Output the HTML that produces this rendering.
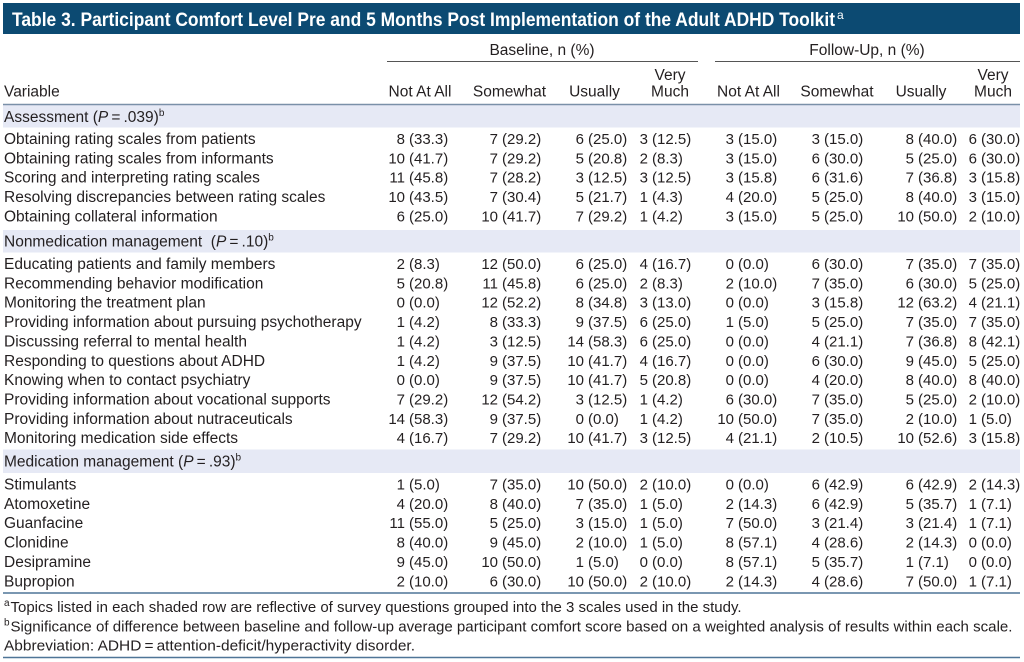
<!DOCTYPE html>
<html>
<head>
<meta charset="utf-8">
<style>
html,body{margin:0;padding:0;background:#fff;}
svg{display:block;}
text{font-family:"Liberation Sans",sans-serif;fill:#231f20;}
.lab{font-size:15.5px;}
.num{font-size:15px;}
.hd{font-size:15.5px;}
.ft{font-size:15px;}
.sup{font-size:10px;}
</style>
</head>
<body>
<svg width="1024" height="662" viewBox="0 0 1024 662" xmlns="http://www.w3.org/2000/svg">
<rect x="0" y="0" width="1024" height="662" fill="#fff"/>
<!-- title bar -->
<rect x="3" y="3" width="1017" height="31" fill="#0c4a72"/>
<text x="12" y="26" style="font-size:19px;font-weight:bold;fill:#fff" textLength="823" lengthAdjust="spacingAndGlyphs">Table 3. Participant Comfort Level Pre and 5 Months Post Implementation of the Adult ADHD Toolkit</text>
<text x="837" y="19" style="font-size:12px;fill:#fff">a</text>

<!-- group headers -->
<text class="hd" x="542" y="55" text-anchor="middle">Baseline, n (%)</text>
<text class="hd" x="867" y="55" text-anchor="middle">Follow-Up, n (%)</text>
<line x1="387" y1="61.5" x2="698" y2="61.5" stroke="#555" stroke-width="1"/>
<line x1="715" y1="61.5" x2="1020" y2="61.5" stroke="#555" stroke-width="1"/>

<!-- column headers -->
<text class="hd" x="4" y="96.5">Variable</text>
<text class="hd" x="420" y="96.5" text-anchor="middle">Not At All</text>
<text class="hd" x="509.5" y="96.5" text-anchor="middle">Somewhat</text>
<text class="hd" x="594.5" y="96.5" text-anchor="middle">Usually</text>
<text class="hd" x="670" y="80" text-anchor="middle">Very</text>
<text class="hd" x="670" y="96.5" text-anchor="middle">Much</text>
<text class="hd" x="748.5" y="96.5" text-anchor="middle">Not At All</text>
<text class="hd" x="837" y="96.5" text-anchor="middle">Somewhat</text>
<text class="hd" x="921" y="96.5" text-anchor="middle">Usually</text>
<text class="hd" x="993" y="80" text-anchor="middle">Very</text>
<text class="hd" x="993" y="96.5" text-anchor="middle">Much</text>

<!-- shaded rows -->
<rect x="3" y="105" width="1017" height="22.5" fill="#e6e9f5"/>
<rect x="3" y="230" width="1017" height="22.5" fill="#e6e9f5"/>
<rect x="3" y="449.5" width="1017" height="23.5" fill="#e6e9f5"/>
<line x1="3" y1="104.5" x2="1020" y2="104.5" stroke="#7a90a8" stroke-width="1.5"/>

<!-- section headers -->
<text class="lab" x="4" y="122">Assessment (<tspan font-style="italic">P</tspan>&#8201;=&#8201;.039)<tspan class="sup" dy="-6">b</tspan></text>
<text class="lab" x="4" y="246.5">Nonmedication management&#160;&#160;(<tspan font-style="italic">P</tspan>&#8201;=&#8201;.10)<tspan class="sup" dy="-6">b</tspan></text>
<text class="lab" x="4" y="466.5">Medication management (<tspan font-style="italic">P</tspan>&#8201;=&#8201;.93)<tspan class="sup" dy="-6">b</tspan></text>

<g id="rows"></g>

<!-- bottom lines -->
<line x1="3" y1="593" x2="1020" y2="593" stroke="#4f7597" stroke-width="1.5"/>
<line x1="3" y1="657.5" x2="1020" y2="657.5" stroke="#4f7597" stroke-width="1.5"/>

<!-- footnotes -->
<text class="sup" x="4" y="606">a</text>
<text class="ft" x="10.5" y="612" textLength="731" lengthAdjust="spacingAndGlyphs">Topics listed in each shaded row are reflective of survey questions grouped into the 3 scales used in the study.</text>
<text class="sup" x="4" y="625.5">b</text>
<text class="ft" x="10.5" y="631.5" textLength="1002" lengthAdjust="spacingAndGlyphs">Significance of difference between baseline and follow-up average participant comfort score based on a weighted analysis of results within each scale.</text>
<text class="ft" x="4" y="650.5" textLength="411" lengthAdjust="spacingAndGlyphs">Abbreviation: ADHD&#8201;=&#8201;attention-deficit/hyperactivity disorder.</text>

<!-- Assessment rows -->
<g class="lab">
<text class="lab" x="4" y="144">Obtaining rating scales from patients</text>
<text class="lab" x="4" y="163.35">Obtaining rating scales from informants</text>
<text class="lab" x="4" y="182.7">Scoring and interpreting rating scales</text>
<text class="lab" x="4" y="202.05">Resolving discrepancies between rating scales</text>
<text class="lab" x="4" y="221.4">Obtaining collateral information</text>

<text class="lab" x="4" y="269">Educating patients and family members</text>
<text class="lab" x="4" y="288.35">Recommending behavior modification</text>
<text class="lab" x="4" y="307.7">Monitoring the treatment plan</text>
<text class="lab" x="4" y="327.05">Providing information about pursuing psychotherapy</text>
<text class="lab" x="4" y="346.4">Discussing referral to mental health</text>
<text class="lab" x="4" y="365.75">Responding to questions about ADHD</text>
<text class="lab" x="4" y="385.1">Knowing when to contact psychiatry</text>
<text class="lab" x="4" y="404.45">Providing information about vocational supports</text>
<text class="lab" x="4" y="423.8">Providing information about nutraceuticals</text>
<text class="lab" x="4" y="443.15">Monitoring medication side effects</text>

<text class="lab" x="4" y="489.5">Stimulants</text>
<text class="lab" x="4" y="508.85">Atomoxetine</text>
<text class="lab" x="4" y="528.2">Guanfacine</text>
<text class="lab" x="4" y="547.55">Clonidine</text>
<text class="lab" x="4" y="566.9">Desipramine</text>
<text class="lab" x="4" y="586.25">Bupropion</text>
</g>

<!-- numeric cells: counts end-anchored, parentheses start-anchored -->
<g class="num">
<!-- col paren x: 409 502 588 652 738 824 918 981 -->
<!-- A1 y=144 -->
<text class="num" y="144"><tspan x="405" text-anchor="end">8</tspan></text><text class="num" x="409" y="144">(33.3)</text>
<text class="num" y="144"><tspan x="498" text-anchor="end">7</tspan></text><text class="num" x="502" y="144">(29.2)</text>
<text class="num" y="144"><tspan x="584" text-anchor="end">6</tspan></text><text class="num" x="588" y="144">(25.0)</text>
<text class="num" y="144"><tspan x="648" text-anchor="end">3</tspan></text><text class="num" x="652" y="144">(12.5)</text>
<text class="num" y="144"><tspan x="734" text-anchor="end">3</tspan></text><text class="num" x="738" y="144">(15.0)</text>
<text class="num" y="144"><tspan x="820" text-anchor="end">3</tspan></text><text class="num" x="824" y="144">(15.0)</text>
<text class="num" y="144"><tspan x="914" text-anchor="end">8</tspan></text><text class="num" x="918" y="144">(40.0)</text>
<text class="num" y="144"><tspan x="977" text-anchor="end">6</tspan></text><text class="num" x="981" y="144">(30.0)</text>
<!-- A2 -->
<text class="num" y="163.35"><tspan x="405" text-anchor="end">10</tspan></text><text class="num" x="409" y="163.35">(41.7)</text>
<text class="num" y="163.35"><tspan x="498" text-anchor="end">7</tspan></text><text class="num" x="502" y="163.35">(29.2)</text>
<text class="num" y="163.35"><tspan x="584" text-anchor="end">5</tspan></text><text class="num" x="588" y="163.35">(20.8)</text>
<text class="num" y="163.35"><tspan x="648" text-anchor="end">2</tspan></text><text class="num" x="652" y="163.35">(8.3)</text>
<text class="num" y="163.35"><tspan x="734" text-anchor="end">3</tspan></text><text class="num" x="738" y="163.35">(15.0)</text>
<text class="num" y="163.35"><tspan x="820" text-anchor="end">6</tspan></text><text class="num" x="824" y="163.35">(30.0)</text>
<text class="num" y="163.35"><tspan x="914" text-anchor="end">5</tspan></text><text class="num" x="918" y="163.35">(25.0)</text>
<text class="num" y="163.35"><tspan x="977" text-anchor="end">6</tspan></text><text class="num" x="981" y="163.35">(30.0)</text>
<!-- A3 -->
<text class="num" y="182.7"><tspan x="405" text-anchor="end">11</tspan></text><text class="num" x="409" y="182.7">(45.8)</text>
<text class="num" y="182.7"><tspan x="498" text-anchor="end">7</tspan></text><text class="num" x="502" y="182.7">(28.2)</text>
<text class="num" y="182.7"><tspan x="584" text-anchor="end">3</tspan></text><text class="num" x="588" y="182.7">(12.5)</text>
<text class="num" y="182.7"><tspan x="648" text-anchor="end">3</tspan></text><text class="num" x="652" y="182.7">(12.5)</text>
<text class="num" y="182.7"><tspan x="734" text-anchor="end">3</tspan></text><text class="num" x="738" y="182.7">(15.8)</text>
<text class="num" y="182.7"><tspan x="820" text-anchor="end">6</tspan></text><text class="num" x="824" y="182.7">(31.6)</text>
<text class="num" y="182.7"><tspan x="914" text-anchor="end">7</tspan></text><text class="num" x="918" y="182.7">(36.8)</text>
<text class="num" y="182.7"><tspan x="977" text-anchor="end">3</tspan></text><text class="num" x="981" y="182.7">(15.8)</text>
<!-- A4 -->
<text class="num" y="202.05"><tspan x="405" text-anchor="end">10</tspan></text><text class="num" x="409" y="202.05">(43.5)</text>
<text class="num" y="202.05"><tspan x="498" text-anchor="end">7</tspan></text><text class="num" x="502" y="202.05">(30.4)</text>
<text class="num" y="202.05"><tspan x="584" text-anchor="end">5</tspan></text><text class="num" x="588" y="202.05">(21.7)</text>
<text class="num" y="202.05"><tspan x="648" text-anchor="end">1</tspan></text><text class="num" x="652" y="202.05">(4.3)</text>
<text class="num" y="202.05"><tspan x="734" text-anchor="end">4</tspan></text><text class="num" x="738" y="202.05">(20.0)</text>
<text class="num" y="202.05"><tspan x="820" text-anchor="end">5</tspan></text><text class="num" x="824" y="202.05">(25.0)</text>
<text class="num" y="202.05"><tspan x="914" text-anchor="end">8</tspan></text><text class="num" x="918" y="202.05">(40.0)</text>
<text class="num" y="202.05"><tspan x="977" text-anchor="end">3</tspan></text><text class="num" x="981" y="202.05">(15.0)</text>
<!-- A5 -->
<text class="num" y="221.4"><tspan x="405" text-anchor="end">6</tspan></text><text class="num" x="409" y="221.4">(25.0)</text>
<text class="num" y="221.4"><tspan x="498" text-anchor="end">10</tspan></text><text class="num" x="502" y="221.4">(41.7)</text>
<text class="num" y="221.4"><tspan x="584" text-anchor="end">7</tspan></text><text class="num" x="588" y="221.4">(29.2)</text>
<text class="num" y="221.4"><tspan x="648" text-anchor="end">1</tspan></text><text class="num" x="652" y="221.4">(4.2)</text>
<text class="num" y="221.4"><tspan x="734" text-anchor="end">3</tspan></text><text class="num" x="738" y="221.4">(15.0)</text>
<text class="num" y="221.4"><tspan x="820" text-anchor="end">5</tspan></text><text class="num" x="824" y="221.4">(25.0)</text>
<text class="num" y="221.4"><tspan x="914" text-anchor="end">10</tspan></text><text class="num" x="918" y="221.4">(50.0)</text>
<text class="num" y="221.4"><tspan x="977" text-anchor="end">2</tspan></text><text class="num" x="981" y="221.4">(10.0)</text>

<!-- N1 y=269 -->
<text class="num" y="269"><tspan x="405" text-anchor="end">2</tspan></text><text class="num" x="409" y="269">(8.3)</text>
<text class="num" y="269"><tspan x="498" text-anchor="end">12</tspan></text><text class="num" x="502" y="269">(50.0)</text>
<text class="num" y="269"><tspan x="584" text-anchor="end">6</tspan></text><text class="num" x="588" y="269">(25.0)</text>
<text class="num" y="269"><tspan x="648" text-anchor="end">4</tspan></text><text class="num" x="652" y="269">(16.7)</text>
<text class="num" y="269"><tspan x="734" text-anchor="end">0</tspan></text><text class="num" x="738" y="269">(0.0)</text>
<text class="num" y="269"><tspan x="820" text-anchor="end">6</tspan></text><text class="num" x="824" y="269">(30.0)</text>
<text class="num" y="269"><tspan x="914" text-anchor="end">7</tspan></text><text class="num" x="918" y="269">(35.0)</text>
<text class="num" y="269"><tspan x="977" text-anchor="end">7</tspan></text><text class="num" x="981" y="269">(35.0)</text>
<!-- N2 -->
<text class="num" y="288.35"><tspan x="405" text-anchor="end">5</tspan></text><text class="num" x="409" y="288.35">(20.8)</text>
<text class="num" y="288.35"><tspan x="498" text-anchor="end">11</tspan></text><text class="num" x="502" y="288.35">(45.8)</text>
<text class="num" y="288.35"><tspan x="584" text-anchor="end">6</tspan></text><text class="num" x="588" y="288.35">(25.0)</text>
<text class="num" y="288.35"><tspan x="648" text-anchor="end">2</tspan></text><text class="num" x="652" y="288.35">(8.3)</text>
<text class="num" y="288.35"><tspan x="734" text-anchor="end">2</tspan></text><text class="num" x="738" y="288.35">(10.0)</text>
<text class="num" y="288.35"><tspan x="820" text-anchor="end">7</tspan></text><text class="num" x="824" y="288.35">(35.0)</text>
<text class="num" y="288.35"><tspan x="914" text-anchor="end">6</tspan></text><text class="num" x="918" y="288.35">(30.0)</text>
<text class="num" y="288.35"><tspan x="977" text-anchor="end">5</tspan></text><text class="num" x="981" y="288.35">(25.0)</text>
<!-- N3 -->
<text class="num" y="307.7"><tspan x="405" text-anchor="end">0</tspan></text><text class="num" x="409" y="307.7">(0.0)</text>
<text class="num" y="307.7"><tspan x="498" text-anchor="end">12</tspan></text><text class="num" x="502" y="307.7">(52.2)</text>
<text class="num" y="307.7"><tspan x="584" text-anchor="end">8</tspan></text><text class="num" x="588" y="307.7">(34.8)</text>
<text class="num" y="307.7"><tspan x="648" text-anchor="end">3</tspan></text><text class="num" x="652" y="307.7">(13.0)</text>
<text class="num" y="307.7"><tspan x="734" text-anchor="end">0</tspan></text><text class="num" x="738" y="307.7">(0.0)</text>
<text class="num" y="307.7"><tspan x="820" text-anchor="end">3</tspan></text><text class="num" x="824" y="307.7">(15.8)</text>
<text class="num" y="307.7"><tspan x="914" text-anchor="end">12</tspan></text><text class="num" x="918" y="307.7">(63.2)</text>
<text class="num" y="307.7"><tspan x="977" text-anchor="end">4</tspan></text><text class="num" x="981" y="307.7">(21.1)</text>
<!-- N4 -->
<text class="num" y="327.05"><tspan x="405" text-anchor="end">1</tspan></text><text class="num" x="409" y="327.05">(4.2)</text>
<text class="num" y="327.05"><tspan x="498" text-anchor="end">8</tspan></text><text class="num" x="502" y="327.05">(33.3)</text>
<text class="num" y="327.05"><tspan x="584" text-anchor="end">9</tspan></text><text class="num" x="588" y="327.05">(37.5)</text>
<text class="num" y="327.05"><tspan x="648" text-anchor="end">6</tspan></text><text class="num" x="652" y="327.05">(25.0)</text>
<text class="num" y="327.05"><tspan x="734" text-anchor="end">1</tspan></text><text class="num" x="738" y="327.05">(5.0)</text>
<text class="num" y="327.05"><tspan x="820" text-anchor="end">5</tspan></text><text class="num" x="824" y="327.05">(25.0)</text>
<text class="num" y="327.05"><tspan x="914" text-anchor="end">7</tspan></text><text class="num" x="918" y="327.05">(35.0)</text>
<text class="num" y="327.05"><tspan x="977" text-anchor="end">7</tspan></text><text class="num" x="981" y="327.05">(35.0)</text>
<!-- N5 -->
<text class="num" y="346.4"><tspan x="405" text-anchor="end">1</tspan></text><text class="num" x="409" y="346.4">(4.2)</text>
<text class="num" y="346.4"><tspan x="498" text-anchor="end">3</tspan></text><text class="num" x="502" y="346.4">(12.5)</text>
<text class="num" y="346.4"><tspan x="584" text-anchor="end">14</tspan></text><text class="num" x="588" y="346.4">(58.3)</text>
<text class="num" y="346.4"><tspan x="648" text-anchor="end">6</tspan></text><text class="num" x="652" y="346.4">(25.0)</text>
<text class="num" y="346.4"><tspan x="734" text-anchor="end">0</tspan></text><text class="num" x="738" y="346.4">(0.0)</text>
<text class="num" y="346.4"><tspan x="820" text-anchor="end">4</tspan></text><text class="num" x="824" y="346.4">(21.1)</text>
<text class="num" y="346.4"><tspan x="914" text-anchor="end">7</tspan></text><text class="num" x="918" y="346.4">(36.8)</text>
<text class="num" y="346.4"><tspan x="977" text-anchor="end">8</tspan></text><text class="num" x="981" y="346.4">(42.1)</text>
<!-- N6 -->
<text class="num" y="365.75"><tspan x="405" text-anchor="end">1</tspan></text><text class="num" x="409" y="365.75">(4.2)</text>
<text class="num" y="365.75"><tspan x="498" text-anchor="end">9</tspan></text><text class="num" x="502" y="365.75">(37.5)</text>
<text class="num" y="365.75"><tspan x="584" text-anchor="end">10</tspan></text><text class="num" x="588" y="365.75">(41.7)</text>
<text class="num" y="365.75"><tspan x="648" text-anchor="end">4</tspan></text><text class="num" x="652" y="365.75">(16.7)</text>
<text class="num" y="365.75"><tspan x="734" text-anchor="end">0</tspan></text><text class="num" x="738" y="365.75">(0.0)</text>
<text class="num" y="365.75"><tspan x="820" text-anchor="end">6</tspan></text><text class="num" x="824" y="365.75">(30.0)</text>
<text class="num" y="365.75"><tspan x="914" text-anchor="end">9</tspan></text><text class="num" x="918" y="365.75">(45.0)</text>
<text class="num" y="365.75"><tspan x="977" text-anchor="end">5</tspan></text><text class="num" x="981" y="365.75">(25.0)</text>
<!-- N7 -->
<text class="num" y="385.1"><tspan x="405" text-anchor="end">0</tspan></text><text class="num" x="409" y="385.1">(0.0)</text>
<text class="num" y="385.1"><tspan x="498" text-anchor="end">9</tspan></text><text class="num" x="502" y="385.1">(37.5)</text>
<text class="num" y="385.1"><tspan x="584" text-anchor="end">10</tspan></text><text class="num" x="588" y="385.1">(41.7)</text>
<text class="num" y="385.1"><tspan x="648" text-anchor="end">5</tspan></text><text class="num" x="652" y="385.1">(20.8)</text>
<text class="num" y="385.1"><tspan x="734" text-anchor="end">0</tspan></text><text class="num" x="738" y="385.1">(0.0)</text>
<text class="num" y="385.1"><tspan x="820" text-anchor="end">4</tspan></text><text class="num" x="824" y="385.1">(20.0)</text>
<text class="num" y="385.1"><tspan x="914" text-anchor="end">8</tspan></text><text class="num" x="918" y="385.1">(40.0)</text>
<text class="num" y="385.1"><tspan x="977" text-anchor="end">8</tspan></text><text class="num" x="981" y="385.1">(40.0)</text>
<!-- N8 -->
<text class="num" y="404.45"><tspan x="405" text-anchor="end">7</tspan></text><text class="num" x="409" y="404.45">(29.2)</text>
<text class="num" y="404.45"><tspan x="498" text-anchor="end">12</tspan></text><text class="num" x="502" y="404.45">(54.2)</text>
<text class="num" y="404.45"><tspan x="584" text-anchor="end">3</tspan></text><text class="num" x="588" y="404.45">(12.5)</text>
<text class="num" y="404.45"><tspan x="648" text-anchor="end">1</tspan></text><text class="num" x="652" y="404.45">(4.2)</text>
<text class="num" y="404.45"><tspan x="734" text-anchor="end">6</tspan></text><text class="num" x="738" y="404.45">(30.0)</text>
<text class="num" y="404.45"><tspan x="820" text-anchor="end">7</tspan></text><text class="num" x="824" y="404.45">(35.0)</text>
<text class="num" y="404.45"><tspan x="914" text-anchor="end">5</tspan></text><text class="num" x="918" y="404.45">(25.0)</text>
<text class="num" y="404.45"><tspan x="977" text-anchor="end">2</tspan></text><text class="num" x="981" y="404.45">(10.0)</text>
<!-- N9 -->
<text class="num" y="423.8"><tspan x="405" text-anchor="end">14</tspan></text><text class="num" x="409" y="423.8">(58.3)</text>
<text class="num" y="423.8"><tspan x="498" text-anchor="end">9</tspan></text><text class="num" x="502" y="423.8">(37.5)</text>
<text class="num" y="423.8"><tspan x="584" text-anchor="end">0</tspan></text><text class="num" x="588" y="423.8">(0.0)</text>
<text class="num" y="423.8"><tspan x="648" text-anchor="end">1</tspan></text><text class="num" x="652" y="423.8">(4.2)</text>
<text class="num" y="423.8"><tspan x="734" text-anchor="end">10</tspan></text><text class="num" x="738" y="423.8">(50.0)</text>
<text class="num" y="423.8"><tspan x="820" text-anchor="end">7</tspan></text><text class="num" x="824" y="423.8">(35.0)</text>
<text class="num" y="423.8"><tspan x="914" text-anchor="end">2</tspan></text><text class="num" x="918" y="423.8">(10.0)</text>
<text class="num" y="423.8"><tspan x="977" text-anchor="end">1</tspan></text><text class="num" x="981" y="423.8">(5.0)</text>
<!-- N10 -->
<text class="num" y="443.15"><tspan x="405" text-anchor="end">4</tspan></text><text class="num" x="409" y="443.15">(16.7)</text>
<text class="num" y="443.15"><tspan x="498" text-anchor="end">7</tspan></text><text class="num" x="502" y="443.15">(29.2)</text>
<text class="num" y="443.15"><tspan x="584" text-anchor="end">10</tspan></text><text class="num" x="588" y="443.15">(41.7)</text>
<text class="num" y="443.15"><tspan x="648" text-anchor="end">3</tspan></text><text class="num" x="652" y="443.15">(12.5)</text>
<text class="num" y="443.15"><tspan x="734" text-anchor="end">4</tspan></text><text class="num" x="738" y="443.15">(21.1)</text>
<text class="num" y="443.15"><tspan x="820" text-anchor="end">2</tspan></text><text class="num" x="824" y="443.15">(10.5)</text>
<text class="num" y="443.15"><tspan x="914" text-anchor="end">10</tspan></text><text class="num" x="918" y="443.15">(52.6)</text>
<text class="num" y="443.15"><tspan x="977" text-anchor="end">3</tspan></text><text class="num" x="981" y="443.15">(15.8)</text>

<!-- M1 y=489.5 -->
<text class="num" y="489.5"><tspan x="405" text-anchor="end">1</tspan></text><text class="num" x="409" y="489.5">(5.0)</text>
<text class="num" y="489.5"><tspan x="498" text-anchor="end">7</tspan></text><text class="num" x="502" y="489.5">(35.0)</text>
<text class="num" y="489.5"><tspan x="584" text-anchor="end">10</tspan></text><text class="num" x="588" y="489.5">(50.0)</text>
<text class="num" y="489.5"><tspan x="648" text-anchor="end">2</tspan></text><text class="num" x="652" y="489.5">(10.0)</text>
<text class="num" y="489.5"><tspan x="734" text-anchor="end">0</tspan></text><text class="num" x="738" y="489.5">(0.0)</text>
<text class="num" y="489.5"><tspan x="820" text-anchor="end">6</tspan></text><text class="num" x="824" y="489.5">(42.9)</text>
<text class="num" y="489.5"><tspan x="914" text-anchor="end">6</tspan></text><text class="num" x="918" y="489.5">(42.9)</text>
<text class="num" y="489.5"><tspan x="977" text-anchor="end">2</tspan></text><text class="num" x="981" y="489.5">(14.3)</text>
<!-- M2 -->
<text class="num" y="508.85"><tspan x="405" text-anchor="end">4</tspan></text><text class="num" x="409" y="508.85">(20.0)</text>
<text class="num" y="508.85"><tspan x="498" text-anchor="end">8</tspan></text><text class="num" x="502" y="508.85">(40.0)</text>
<text class="num" y="508.85"><tspan x="584" text-anchor="end">7</tspan></text><text class="num" x="588" y="508.85">(35.0)</text>
<text class="num" y="508.85"><tspan x="648" text-anchor="end">1</tspan></text><text class="num" x="652" y="508.85">(5.0)</text>
<text class="num" y="508.85"><tspan x="734" text-anchor="end">2</tspan></text><text class="num" x="738" y="508.85">(14.3)</text>
<text class="num" y="508.85"><tspan x="820" text-anchor="end">6</tspan></text><text class="num" x="824" y="508.85">(42.9)</text>
<text class="num" y="508.85"><tspan x="914" text-anchor="end">5</tspan></text><text class="num" x="918" y="508.85">(35.7)</text>
<text class="num" y="508.85"><tspan x="977" text-anchor="end">1</tspan></text><text class="num" x="981" y="508.85">(7.1)</text>
<!-- M3 -->
<text class="num" y="528.2"><tspan x="405" text-anchor="end">11</tspan></text><text class="num" x="409" y="528.2">(55.0)</text>
<text class="num" y="528.2"><tspan x="498" text-anchor="end">5</tspan></text><text class="num" x="502" y="528.2">(25.0)</text>
<text class="num" y="528.2"><tspan x="584" text-anchor="end">3</tspan></text><text class="num" x="588" y="528.2">(15.0)</text>
<text class="num" y="528.2"><tspan x="648" text-anchor="end">1</tspan></text><text class="num" x="652" y="528.2">(5.0)</text>
<text class="num" y="528.2"><tspan x="734" text-anchor="end">7</tspan></text><text class="num" x="738" y="528.2">(50.0)</text>
<text class="num" y="528.2"><tspan x="820" text-anchor="end">3</tspan></text><text class="num" x="824" y="528.2">(21.4)</text>
<text class="num" y="528.2"><tspan x="914" text-anchor="end">3</tspan></text><text class="num" x="918" y="528.2">(21.4)</text>
<text class="num" y="528.2"><tspan x="977" text-anchor="end">1</tspan></text><text class="num" x="981" y="528.2">(7.1)</text>
<!-- M4 -->
<text class="num" y="547.55"><tspan x="405" text-anchor="end">8</tspan></text><text class="num" x="409" y="547.55">(40.0)</text>
<text class="num" y="547.55"><tspan x="498" text-anchor="end">9</tspan></text><text class="num" x="502" y="547.55">(45.0)</text>
<text class="num" y="547.55"><tspan x="584" text-anchor="end">2</tspan></text><text class="num" x="588" y="547.55">(10.0)</text>
<text class="num" y="547.55"><tspan x="648" text-anchor="end">1</tspan></text><text class="num" x="652" y="547.55">(5.0)</text>
<text class="num" y="547.55"><tspan x="734" text-anchor="end">8</tspan></text><text class="num" x="738" y="547.55">(57.1)</text>
<text class="num" y="547.55"><tspan x="820" text-anchor="end">4</tspan></text><text class="num" x="824" y="547.55">(28.6)</text>
<text class="num" y="547.55"><tspan x="914" text-anchor="end">2</tspan></text><text class="num" x="918" y="547.55">(14.3)</text>
<text class="num" y="547.55"><tspan x="977" text-anchor="end">0</tspan></text><text class="num" x="981" y="547.55">(0.0)</text>
<!-- M5 -->
<text class="num" y="566.9"><tspan x="405" text-anchor="end">9</tspan></text><text class="num" x="409" y="566.9">(45.0)</text>
<text class="num" y="566.9"><tspan x="498" text-anchor="end">10</tspan></text><text class="num" x="502" y="566.9">(50.0)</text>
<text class="num" y="566.9"><tspan x="584" text-anchor="end">1</tspan></text><text class="num" x="588" y="566.9">(5.0)</text>
<text class="num" y="566.9"><tspan x="648" text-anchor="end">0</tspan></text><text class="num" x="652" y="566.9">(0.0)</text>
<text class="num" y="566.9"><tspan x="734" text-anchor="end">8</tspan></text><text class="num" x="738" y="566.9">(57.1)</text>
<text class="num" y="566.9"><tspan x="820" text-anchor="end">5</tspan></text><text class="num" x="824" y="566.9">(35.7)</text>
<text class="num" y="566.9"><tspan x="914" text-anchor="end">1</tspan></text><text class="num" x="918" y="566.9">(7.1)</text>
<text class="num" y="566.9"><tspan x="977" text-anchor="end">0</tspan></text><text class="num" x="981" y="566.9">(0.0)</text>
<!-- M6 -->
<text class="num" y="586.25"><tspan x="405" text-anchor="end">2</tspan></text><text class="num" x="409" y="586.25">(10.0)</text>
<text class="num" y="586.25"><tspan x="498" text-anchor="end">6</tspan></text><text class="num" x="502" y="586.25">(30.0)</text>
<text class="num" y="586.25"><tspan x="584" text-anchor="end">10</tspan></text><text class="num" x="588" y="586.25">(50.0)</text>
<text class="num" y="586.25"><tspan x="648" text-anchor="end">2</tspan></text><text class="num" x="652" y="586.25">(10.0)</text>
<text class="num" y="586.25"><tspan x="734" text-anchor="end">2</tspan></text><text class="num" x="738" y="586.25">(14.3)</text>
<text class="num" y="586.25"><tspan x="820" text-anchor="end">4</tspan></text><text class="num" x="824" y="586.25">(28.6)</text>
<text class="num" y="586.25"><tspan x="914" text-anchor="end">7</tspan></text><text class="num" x="918" y="586.25">(50.0)</text>
<text class="num" y="586.25"><tspan x="977" text-anchor="end">1</tspan></text><text class="num" x="981" y="586.25">(7.1)</text>
</g>
</svg>
</body>
</html>
